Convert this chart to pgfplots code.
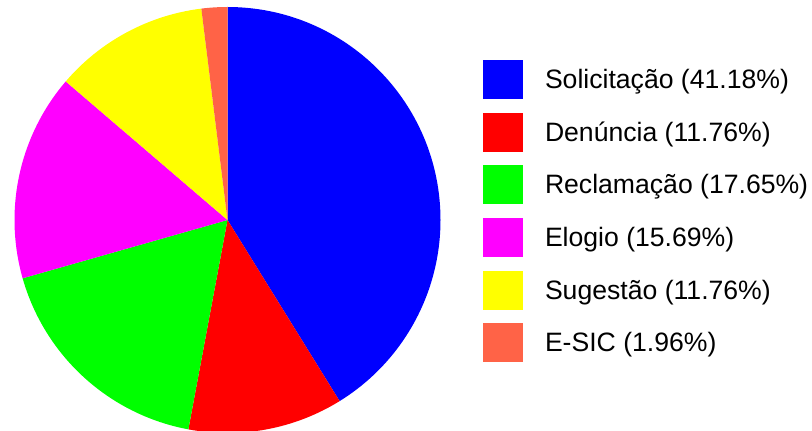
\documentclass[border=0pt]{standalone}
\usepackage{pgfplots}
\usepackage{pgfplotstable}
\usepackage{fontspec}
\setmainfont{Liberation Sans}
\pgfplotsset{compat=1.18}

\definecolor{slice0}{RGB}{0,0,255}
\definecolor{slice1}{RGB}{255,0,0}
\definecolor{slice2}{RGB}{0,255,0}
\definecolor{slice3}{RGB}{255,0,255}
\definecolor{slice4}{RGB}{255,255,0}
\definecolor{slice5}{RGB}{255,99,71}

% counts (41.18% = 21/51, etc.)
\pgfplotstableread[col sep=comma]{
label,count
Solicitação,21
Denúncia,6
Reclamação,9
Elogio,8
Sugestão,6
E-SIC,1
}\piedata

% total and cumulative angles (clockwise from the top)
\gdef\pietotal{0}
\foreach \i in {0,...,5}{%
  \pgfplotstablegetelem{\i}{count}\of\piedata
  \pgfmathsetmacro\tmp{\pietotal+\pgfplotsretval}%
  \xdef\pietotal{\tmp}%
}
\gdef\cumangle{90}
\foreach \i in {0,...,5}{%
  \pgfplotstablegetelem{\i}{count}\of\piedata
  \pgfmathsetmacro\sweep{360*\pgfplotsretval/\pietotal}%
  \expandafter\xdef\csname sa\i\endcsname{\cumangle}%
  \pgfmathsetmacro\newc{\cumangle-\sweep}%
  \xdef\cumangle{\newc}%
  \expandafter\xdef\csname ea\i\endcsname{\cumangle}%
}

\begin{document}
\begin{tikzpicture}
\useasboundingbox (0,0) rectangle (812pt,431pt);
\begin{axis}[
  x=1pt, y=1pt,
  xmin=0, xmax=812, ymin=0, ymax=431,
  hide axis, clip=false,
  at={(0,0)}, anchor=south west,
  legend image code/.code={\fill[#1] (0pt,-19.5pt) rectangle (40pt,19.5pt); \path (62pt,0pt);},
  legend cell align=left,
  legend style={at={(axis cs:483,371)}, anchor=north west, draw=none, fill=none,
    inner sep=0pt, outer sep=0pt, row sep=13.7pt, column sep=0pt,
    nodes={inner sep=0pt, outer sep=0pt},
    font=\fontsize{26.6}{31}\selectfont},
]
\pgfplotsinvokeforeach{0,...,5}{
  \fill[slice#1] (axis cs:227.5,211) -- ++(\csname sa#1\endcsname:213pt)
     arc[start angle=\csname sa#1\endcsname, end angle=\csname ea#1\endcsname, radius=213pt] -- cycle;
}
\addlegendimage{fill=slice0, draw=none}
\addlegendentry{Solicitação (41.18\%)}
\addlegendimage{fill=slice1, draw=none}
\addlegendentry{Denúncia (11.76\%)}
\addlegendimage{fill=slice2, draw=none}
\addlegendentry{Reclamação (17.65\%)}
\addlegendimage{fill=slice3, draw=none}
\addlegendentry{Elogio (15.69\%)}
\addlegendimage{fill=slice4, draw=none}
\addlegendentry{Sugestão (11.76\%)}
\addlegendimage{fill=slice5, draw=none}
\addlegendentry{E-SIC (1.96\%)}
\end{axis}
\end{tikzpicture}
\end{document}
